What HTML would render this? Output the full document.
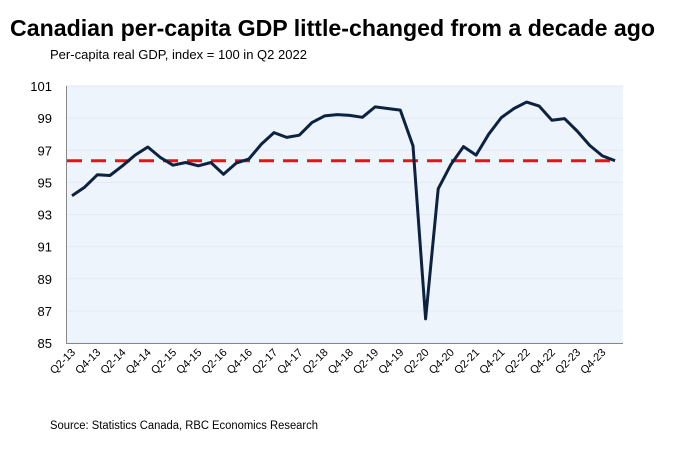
<!DOCTYPE html>
<html><head><meta charset="utf-8"><style>
body{margin:0;background:#fff;width:681px;height:445px;overflow:hidden;font-family:"Liberation Sans",sans-serif}
</style></head><body>
<svg width="681" height="445">
<text x="10" y="36" font-size="23" font-weight="bold" fill="#000" textLength="645" lengthAdjust="spacingAndGlyphs">Canadian per-capita GDP little-changed from a decade ago</text>
<text x="50" y="59" font-size="13" fill="#000" textLength="257" lengthAdjust="spacingAndGlyphs">Per-capita real GDP, index = 100 in Q2 2022</text>
<rect x="67" y="86" width="556" height="257" fill="#eef4fb"/>
<g id="grid"></g>
<line x1="66.5" y1="86" x2="66.5" y2="343.5" stroke="#888" stroke-width="1"/>
<line x1="66" y1="343.5" x2="623" y2="343.5" stroke="#888" stroke-width="1"/>
<g id="yticks"></g><g id="xticks"></g>
<line id="ref" stroke="#e3141b" stroke-width="3" stroke-dasharray="15,9"/>
<path id="series" fill="none" stroke="#0d2240" stroke-width="3" stroke-linejoin="round"/>
<text x="50" y="429" font-size="11.5" fill="#000" textLength="268" lengthAdjust="spacingAndGlyphs">Source: Statistics Canada, RBC Economics Research</text>
</svg>
<script>
const values=[94.17,94.7,95.47,95.43,96.03,96.7,97.2,96.55,96.07,96.24,96.03,96.24,95.5,96.2,96.45,97.38,98.1,97.8,97.94,98.72,99.14,99.22,99.17,99.05,99.7,99.6,99.5,97.27,86.5,94.6,96.1,97.23,96.7,98.0,99.03,99.6,100.0,99.75,98.87,98.97,98.2,97.3,96.65,96.35];
const xLabels=["Q2-13","Q4-13","Q2-14","Q4-14","Q2-15","Q4-15","Q2-16","Q4-16","Q2-17","Q4-17","Q2-18","Q4-18","Q2-19","Q4-19","Q2-20","Q4-20","Q2-21","Q4-21","Q2-22","Q4-22","Q2-23","Q4-23"];
const yTicks=[85,87,89,91,93,95,97,99,101];
const refLevel=[96.35];
const NS="http://www.w3.org/2000/svg";
const x=i=>72+i*(615-72)/(values.length-1);
const y=v=>343-(v-85)*(343-86)/16;
let d="";values.forEach((v,i)=>{d+=(i?"L":"M")+x(i).toFixed(1)+","+y(v).toFixed(1)});
document.getElementById("series").setAttribute("d",d);
const r=document.getElementById("ref");
r.setAttribute("x1",67);r.setAttribute("x2",618);r.setAttribute("y1",y(refLevel[0]));r.setAttribute("y2",y(refLevel[0]));
const yt=document.getElementById("yticks"),g=document.getElementById("grid");
yTicks.forEach(t=>{
 const tx=document.createElementNS(NS,"text");
 tx.setAttribute("x",52);tx.setAttribute("y",y(t)+5);tx.setAttribute("text-anchor","end");tx.setAttribute("font-size","13");
 tx.textContent=t;
 
 
 yt.appendChild(tx);
 const gl=document.createElementNS(NS,"line");
 gl.setAttribute("x1",67);gl.setAttribute("x2",623);gl.setAttribute("y1",y(t));gl.setAttribute("y2",y(t));gl.setAttribute("stroke","#e2eaf4");
 
 
 g.appendChild(gl);
});
const xt=document.getElementById("xticks");
xLabels.forEach((l,k)=>{
 const px=x(k*2)+4,py=353;
 const tx=document.createElementNS(NS,"text");
 tx.setAttribute("x",px);tx.setAttribute("y",py);tx.setAttribute("text-anchor","end");tx.setAttribute("font-size","11");
 tx.setAttribute("transform","rotate(-45 "+px+" "+py+")");
 tx.textContent=l;
 
 
 xt.appendChild(tx);
});
</script>
</body></html>
